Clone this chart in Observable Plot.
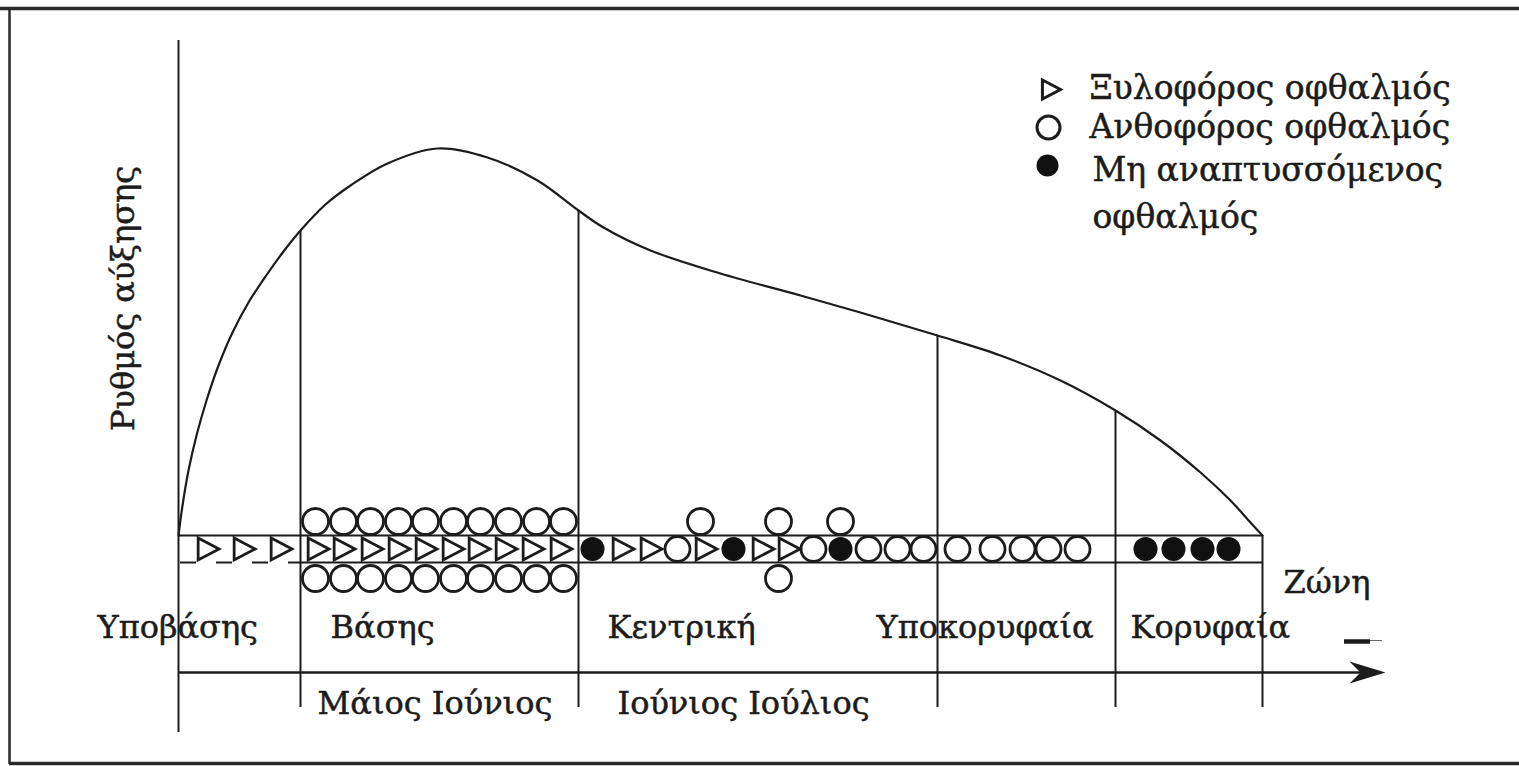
<!DOCTYPE html>
<html>
<head>
<meta charset="utf-8">
<script src="https://cdn.jsdelivr.net/npm/d3@7"></script>
<script src="https://cdn.jsdelivr.net/npm/@observablehq/plot@0.6"></script>
<style>
  html, body { margin: 0; padding: 0; background: #fff; overflow: hidden; }
</style>
</head>
<body>
<div id="chart"></div>
<script>
// ---------------- DATA ----------------
// Zones along the shoot (position units measured from the shoot base)
const zoneNames = ["Υποβάσης", "Βάσης", "Κεντρική", "Υποκορυφαία", "Κορυφαία"];
const zoneBounds = [0, 122, 400, 759, 937, 1084];
const monthLabels = ["Μάιος Ιούνιος", "Ιούνιος Ιούλιος"];
const axisLabelY = "Ρυθμός αύξησης";
const axisLabelX = "Ζώνη";

// Growth-rate curve (position along shoot, relative growth rate)
const curvePos   = [0, 4, 10, 18, 28, 40, 54, 70, 87, 105, 122, 147, 172, 209, 259, 309, 359, 400, 425, 472, 542, 622, 692, 759, 822, 882, 937, 982, 1022, 1052, 1072, 1084];
const growthRate = [0, 30, 65, 100, 135, 170, 203, 233, 259, 284, 305, 331, 350, 372, 387, 378, 355, 325, 308, 285, 262, 240, 220, 200, 180, 155, 125, 95, 63, 35, 13, 0];

// Buds along the shoot
const woodBuds        = [29, 65, 102, 139, 165, 193, 220, 247, 274, 300, 327, 354, 382, 444, 472, 527, 584, 610];
const flowerBudsRow   = [499, 635, 690, 719, 745, 779, 814, 844, 870, 899];
const flowerBudsAbove = [137, 165, 192, 220, 247, 275, 302, 330, 358, 385, 522, 600, 662];
const flowerBudsBelow = [137, 165, 192, 220, 247, 275, 302, 330, 358, 385, 600];
const latentBuds      = [414, 555, 662, 967, 995, 1024, 1050];

const legendLabels = ["Ξυλοφόρος οφθαλμός", "Ανθοφόρος οφθαλμός", "Μη αναπτυσσόμενος\nοφθαλμός"];

// ---------------- LAYOUT ----------------
const W = 1519, H = 766;
const X0 = 178, Y0 = 535;            // pixel position of shoot base / band top
const fx = p => p - X0;              // pixel -> x units
const fy = p => Y0 - p;              // pixel -> y units
const BAND = 27;                     // band thickness (y units)
const rowY = -BAND / 2, upY = 14, downY = -43;
const FONT = "DejaVu Serif";
const INK = "#1c1c1c";
const FS = 32;

const rateAt = p => growthRate[curvePos.indexOf(p)];

const triRight = {
  draw(ctx, size) {
    const r = Math.sqrt(size / Math.PI);
    ctx.moveTo(-0.85 * r, -r);
    ctx.lineTo(1.05 * r, 0);
    ctx.lineTo(-0.85 * r, r);
    ctx.closePath();
  }
};
const arrowHead = {
  draw(ctx) {
    ctx.moveTo(0, 0);
    ctx.lineTo(-36, -11);
    ctx.lineTo(-25, 0);
    ctx.lineTo(-36, 11);
    ctx.closePath();
  }
};

const zoneLabelPx = [97, 330, 607, 876, 1130];
const monthLabelPx = [317, 617];

const curve = curvePos.map((p, i) => ({p, r: growthRate[i]}));
const zoneLines = zoneBounds.slice(1).map(b => ({b, top: rateAt(b)}));

// legend lines (the third entry wraps onto two lines)
const legendRowsPx = [88, 127, 170];
const legendLines = [];
legendLabels.forEach((lab, i) => {
  lab.split("\n").forEach((t, j) => legendLines.push({t, y: legendRowsPx[i] + j * 47, x: i === 2 ? 1092 : 1089}));
});

const textOpts = {textAnchor: "start", fontFamily: FONT, fontSize: FS, fill: INK, stroke: INK, strokeWidth: 0.5};

const marks = [
  // frame of the figure
  Plot.ruleY([fy(8)], {x1: fx(0), x2: fx(W), stroke: "#2a2a2a", strokeWidth: 3.5}),
  Plot.ruleX([fx(9)], {y1: fy(8), y2: fy(764), stroke: "#2a2a2a", strokeWidth: 2.5}),
  Plot.ruleY([fy(763)], {x1: fx(9), x2: fx(W), stroke: "#2a2a2a", strokeWidth: 3.5}),

  // vertical growth-rate axis
  Plot.ruleX([0], {y1: fy(40), y2: fy(732), stroke: INK, strokeWidth: 2}),
  // zone boundaries from the curve down
  Plot.ruleX(zoneLines, {x: "b", y1: "top", y2: fy(707), stroke: INK, strokeWidth: 2}),

  // growth-rate curve
  Plot.line(curve, {x: "p", y: "r", curve: "catmull-rom", stroke: INK, strokeWidth: 2.2}),

  // shoot band
  Plot.ruleY([0], {x1: zoneBounds[0], x2: zoneBounds[5], stroke: INK, strokeWidth: 2}),
  Plot.ruleY([-BAND], {x1: zoneBounds[1], x2: zoneBounds[5], stroke: INK, strokeWidth: 2}),
  Plot.ruleY([-BAND], {x1: zoneBounds[0], x2: zoneBounds[1], stroke: INK, strokeWidth: 2, strokeDasharray: "16,20", strokeDashoffset: -2}),

  // buds
  Plot.dot(woodBuds, {x: d => d, y: rowY, r: 11, symbol: triRight, stroke: INK, strokeWidth: 2.8, fill: "none"}),
  Plot.dot(flowerBudsRow, {x: d => d, y: rowY, r: 12.5, stroke: INK, strokeWidth: 2.8, fill: "none"}),
  Plot.dot(flowerBudsAbove, {x: d => d, y: upY, r: 13, stroke: INK, strokeWidth: 2.8, fill: "none"}),
  Plot.dot(flowerBudsBelow, {x: d => d, y: downY, r: 13, stroke: INK, strokeWidth: 2.8, fill: "none"}),
  Plot.dot(latentBuds, {x: d => d, y: rowY, r: 12, fill: "#111", stroke: "none"}),

  // time axis arrow
  Plot.ruleY([fy(672)], {x1: 0, x2: fx(1372), stroke: INK, strokeWidth: 2.5}),
  Plot.dot([fx(1385)], {x: d => d, y: fy(672), symbol: arrowHead, r: 10, fill: INK, stroke: "none"}),
  // small pen mark above the arrow
  Plot.ruleY([fy(641)], {x1: fx(1344), x2: fx(1370), stroke: INK, strokeWidth: 4.5}),
  Plot.ruleY([fy(640)], {x1: fx(1370), x2: fx(1382), stroke: "#666", strokeWidth: 1}),

  // zone labels
  Plot.text(zoneNames, {x: (d, i) => fx(zoneLabelPx[i]), y: fy(627), text: d => d, ...textOpts}),
  Plot.text([axisLabelX], {x: fx(1283), y: fy(582), text: d => d, ...textOpts}),
  Plot.text(monthLabels, {x: (d, i) => fx(monthLabelPx[i]), y: fy(703), text: d => d, ...textOpts}),
  Plot.text([axisLabelY], {x: fx(123), y: fy(298), text: d => d, rotate: -90, ...textOpts, textAnchor: "middle"}),

  // legend
  Plot.dot([0], {x: fx(1050), y: fy(89), r: 9.5, symbol: triRight, stroke: INK, strokeWidth: 3, fill: "none"}),
  Plot.dot([0], {x: fx(1048), y: fy(127), r: 11.5, stroke: INK, strokeWidth: 3, fill: "none"}),
  Plot.dot([0], {x: fx(1047), y: fy(165), r: 11, fill: "#111", stroke: "none"}),
  Plot.text(legendLines, {x: d => fx(d.x), y: d => fy(d.y), text: "t", ...textOpts, fontSize: 33})
];

const chart = Plot.plot({
  width: W,
  height: H,
  margin: 0,
  x: {domain: [fx(0), fx(W)], axis: null},
  y: {domain: [fy(H), fy(0)], axis: null},
  style: {background: "#fff", fontFamily: FONT, overflow: "hidden"},
  marks
});
document.getElementById("chart").appendChild(chart);
</script>
</body>
</html>
